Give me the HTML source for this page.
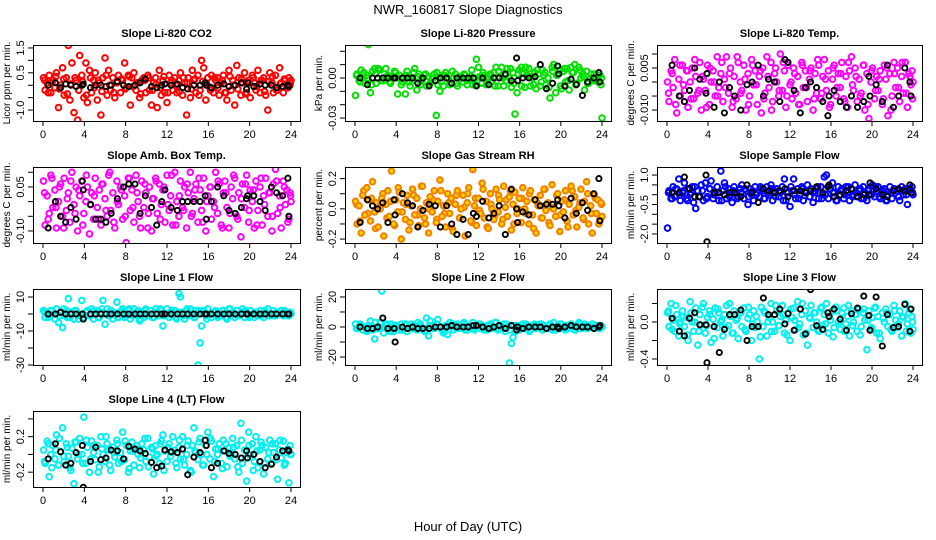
<!DOCTYPE html>
<html><head><meta charset="utf-8"><title>NWR_160817 Slope Diagnostics</title>
<style>
html,body{margin:0;padding:0;background:#fff;}
svg{display:block;font-family:"Liberation Sans",Arial,sans-serif;}
</style></head>
<body>
<svg id="chart" width="936" height="540" viewBox="0 0 936 540" xmlns="http://www.w3.org/2000/svg">
<rect x="0" y="0" width="936" height="540" fill="#fff"/>
<text x="468" y="14" font-size="13" text-anchor="middle">NWR_160817  Slope Diagnostics</text>
<text x="468" y="531" font-size="13" text-anchor="middle">Hour of Day (UTC)</text>
</svg>
<script>
const hoursAll = [0.05,0.2,0.4,0.6,0.75,0.95,1.15,1.3,1.5,1.7,
1.9,2.05,2.25,2.45,2.6,2.8,3.0,3.2,3.35,3.55,
3.75,3.95,4.15,4.3,4.5,4.7,4.9,5.05,5.25,5.45,
5.6,5.8,6.0,6.2,6.35,6.55,6.75,6.95,7.15,7.3,
7.5,7.7,7.9,8.05,8.25,8.45,8.6,8.8,9.0,9.2,
9.35,9.55,9.75,9.95,10.15,10.3,10.5,10.7,10.9,11.05,
11.25,11.45,11.6,11.8,12.0,12.2,12.35,12.55,12.75,12.95,
13.15,13.3,13.5,13.7,13.9,14.05,14.25,14.45,14.6,14.8,
15.0,15.2,15.35,15.55,15.75,15.95,16.15,16.3,16.5,16.7,
16.9,17.05,17.25,17.45,17.6,17.8,18.0,18.2,18.35,18.55,
18.75,18.95,19.15,19.3,19.5,19.7,19.9,20.05,20.25,20.45,
20.6,20.8,21.0,21.2,21.35,21.55,21.75,21.95,22.15,22.3,
22.5,22.7,22.9,23.05,23.25,23.45,23.6,23.8,23.9,24.0];
const hoursB = [0.15,0.5,0.85,1.25,1.6,2.0,2.35,2.7,3.1,3.45,3.85,4.2,4.6,4.95,5.35,5.7,6.1,6.45,6.85,7.2,7.6,7.95,8.35,8.7,9.1,9.45,9.85,10.2,10.6,10.95,11.35,11.7,12.1,12.45,12.85,13.2,13.6,13.95,14.35,14.7,15.1,15.45,15.85,16.2,16.6,16.95,17.35,17.7,18.1,18.45,18.85,19.2,19.6,19.95,20.35,20.7,21.1,21.45,21.85,22.2,22.6,22.95,23.35,23.7,23.95];
const hoursRef = [0.5,1.2,1.7,2.2,2.7,3.2,3.8,3.9,4.6,5.1,5.6,6.1,6.6,7.2,7.8,8.3,8.9,9.4,9.9,10.5,11.0,11.5,11.8,12.4,13.0,13.5,14.0,14.6,15.2,15.7,15.8,16.3,16.9,17.5,18.0,18.6,19.2,19.7,19.8,20.4,21.0,21.5,22.1,22.6,23.2,23.7,23.8];
const xTicks = [0,4,8,12,16,20,24];

const co2Vals = [0.3,-0.2,0.1,0.4,-0.3,0.2,-0.1,0.5,-0.9,0.0,
0.7,-0.4,0.3,1.6,-0.6,0.9,-1.1,0.2,-1.4,1.2,
0.4,-0.5,0.9,-0.7,0.6,-0.3,0.2,0.5,-0.6,0.1,
-1.2,0.3,1.1,-0.4,0.6,-0.2,0.3,-0.5,0.1,0.4,
-0.3,0.2,0.9,-0.1,0.4,-0.8,0.3,0.5,-0.2,0.1,
-0.5,0.2,0.3,-0.3,0.4,-0.2,-0.8,0.1,0.3,-0.9,
0.6,-0.4,0.2,-0.3,-0.7,0.4,0.1,-0.2,0.3,-0.3,
0.2,0.5,-0.4,0.1,-1.2,0.3,-0.5,0.6,0.2,-0.3,
0.4,-0.2,1.0,0.7,-0.6,0.3,-0.1,0.4,-0.3,0.2,
0.3,-0.4,0.1,0.4,-0.3,-0.6,0.6,-0.2,0.2,-0.8,
0.8,0.3,-0.4,0.1,0.5,-0.3,0.2,-0.5,0.4,0.1,
-0.2,0.6,-0.3,0.2,0.3,-0.4,-1.0,0.5,0.1,-0.3,
0.4,-0.2,0.7,0.1,-0.3,0.2,-0.1,0.3,0.0,0.2];
const co2ValsB = [0.2,-0.3,0.1,0.35,-0.15,0.25,-0.35,0.05,0.3,-0.2,0.15,-0.4,0.3,-0.1,0.2,-0.25,0.4,0.0,-0.3,0.15,0.25,-0.15,0.35,-0.05,0.1,-0.35,0.2,0.3,-0.2,0.05,-0.1,0.35,-0.3,0.2,0.0,-0.25,0.3,0.1,-0.15,0.25,-0.4,0.15,0.05,-0.2,0.3,-0.1,0.2,-0.3,0.35,0.0,-0.15,0.25,-0.35,0.1,0.3,-0.05,0.2,-0.25,0.15,0.35,-0.2,0.05,0.25,-0.1,0.1];
const co2Ref = [0.0,0.1,-0.1,0.05,0.0,-0.05,0.0,0.05,-0.1,0.0,0.0,-0.05,0.0,0.15,0.0,-0.05,0.0,0.1,0.25,-0.05,-0.1,0.0,0.05,0.0,0.05,-0.1,-0.15,0.0,0.0,0.1,0.0,-0.1,0.0,0.05,-0.05,0.0,0.1,-0.15,0.1,-0.05,0.05,0.0,0.0,-0.1,-0.05,0.0,-0.05];

const pressVals = [-0.013,0.003,-0.002,0.006,0.0,-0.004,0.002,0.025,-0.011,0.005,
0.007,-0.004,0.007,0.006,-0.002,0.0,0.007,0.002,-0.003,0.001,
0.0,0.004,-0.012,0.002,-0.005,0.0,-0.012,0.005,-0.003,0.0,
-0.002,0.007,-0.009,0.003,-0.005,0.0,0.002,-0.006,0.001,-0.004,
0.0,0.003,-0.028,-0.005,-0.01,0.002,-0.006,0.004,0.0,-0.005,
-0.004,0.0,0.003,-0.006,0.001,0.0,-0.003,0.002,-0.005,0.0,
0.001,-0.005,0.0,0.014,0.008,0.0,-0.004,0.002,-0.005,0.0,
0.003,-0.002,0.004,0.008,-0.006,0.001,0.008,-0.006,0.002,0.007,
0.0,-0.007,0.004,-0.027,-0.011,0.006,0.008,0.003,-0.007,0.002,
0.007,-0.006,0.0,0.004,-0.008,0.003,-0.006,0.006,0.002,-0.005,
0.0,-0.015,0.008,0.01,-0.011,0.003,0.006,-0.008,0.005,-0.003,
0.007,-0.009,0.008,0.004,0.01,-0.004,0.008,0.0,0.003,-0.009,
0.005,-0.004,0.0,-0.002,0.003,0.0,-0.003,0.002,-0.005,-0.03];
const pressValsB = [0.002,-0.003,0.004,0.0,-0.005,0.003,0.006,-0.002,0.001,-0.004,0.005,0.0,-0.003,0.002,-0.006,0.004,0.001,-0.002,0.003,-0.005,0.0,0.004,-0.003,0.002,-0.001,0.005,-0.004,0.0,0.003,-0.002,0.006,-0.005,0.001,0.004,-0.003,0.002,-0.006,0.005,0.0,-0.002,0.007,-0.004,0.003,-0.006,0.008,0.001,-0.005,0.006,-0.003,0.004,-0.007,0.005,0.002,-0.006,0.007,-0.002,0.004,-0.005,0.006,0.001,-0.004,0.003,-0.002,0.002,0.0];
const pressRef = [0.0,-0.005,0.0,0.0,0.0,0.0,0.0,0.0,0.0,0.0,0.0,-0.004,0.0,-0.006,-0.002,0.0,0.0,-0.004,0.0,0.0,0.0,0.0,-0.006,0.0,-0.005,0.0,0.0,0.003,-0.002,0.015,-0.002,0.0,0.0,0.001,0.01,-0.008,-0.004,0.009,0.003,-0.006,-0.001,-0.005,-0.013,-0.003,0.0,0.004,-0.003];

const liTempVals = [0.0,-0.007,0.004,-0.002,0.008,-0.011,0.001,-0.005,0.006,-0.003,
0.004,-0.009,0.0,0.005,-0.006,0.002,-0.004,0.007,-0.010,0.001,
-0.003,0.006,-0.008,0.0,0.004,-0.005,0.009,-0.002,0.003,-0.007,
0.001,0.009,-0.004,0.005,-0.009,0.002,-0.006,0.007,0.0,-0.003,
0.006,-0.010,0.003,-0.005,0.008,-0.001,0.004,-0.008,0.002,-0.011,
0.005,-0.004,0.009,-0.002,0.007,-0.007,0.003,0.0,-0.005,0.010,
-0.003,0.004,-0.009,0.006,-0.001,-0.006,0.005,-0.004,0.002,-0.008,
0.007,-0.002,0.004,-0.007,0.001,0.005,-0.010,0.003,-0.004,0.006,
-0.006,0.002,0.008,-0.003,0.004,-0.008,0.001,0.006,-0.005,0.003,
-0.002,0.007,-0.006,0.002,-0.009,0.004,0.009,-0.003,0.005,-0.007,
0.001,-0.004,0.006,-0.010,0.003,-0.013,0.0,0.005,-0.006,0.002,
-0.003,0.004,-0.008,0.006,0.001,-0.012,0.003,-0.005,0.007,-0.002,
0.005,-0.007,0.002,-0.004,0.007,-0.009,0.003,-0.001,0.004,0.0];
const liTempValsB = [-0.004,0.003,-0.008,0.006,-0.001,0.004,-0.006,0.008,-0.003,0.002,-0.009,0.005,0.0,-0.005,0.007,-0.002,0.003,-0.007,0.009,-0.004,0.001,-0.008,0.006,-0.001,0.004,-0.006,0.002,-0.010,0.005,-0.003,0.007,-0.005,0.0,0.003,-0.008,0.006,-0.002,0.004,-0.006,0.008,-0.004,0.001,-0.009,0.005,-0.002,0.003,-0.007,0.007,-0.001,0.002,-0.005,0.006,-0.008,0.004,-0.003,0.001,-0.006,0.005,-0.010,0.003,-0.002,0.007,-0.004,0.002,-0.006];
const liTempRef = [0.006,-0.005,-0.007,-0.003,0.005,0.001,-0.004,0.003,-0.009,0.0,-0.011,-0.002,-0.005,-0.010,-0.001,0.0,0.006,-0.005,0.001,0.0,-0.007,0.008,0.007,-0.003,-0.011,-0.002,0.0,-0.002,-0.007,-0.012,-0.005,-0.003,-0.007,-0.009,-0.005,-0.009,-0.007,0.002,-0.005,-0.001,-0.007,0.006,-0.009,-0.005,0.005,0.0,-0.005];

const ambVals = [0.07,-0.08,0.02,-0.04,0.09,-0.02,0.04,-0.09,0.0,0.06,
-0.05,0.08,-0.03,0.03,-0.07,0.1,-0.01,0.05,-0.10,0.02,
0.07,-0.04,0.0,0.05,-0.11,0.03,-0.06,0.08,-0.02,0.04,
-0.08,0.06,0.01,-0.05,0.09,-0.03,0.03,-0.09,0.07,-0.01,
0.05,-0.06,0.02,-0.14,0.08,-0.03,0.04,-0.07,0.09,0.0,
-0.05,0.07,-0.02,0.03,-0.09,0.05,-0.10,0.01,0.08,-0.04,
0.06,-0.01,0.04,-0.07,0.09,-0.03,0.02,-0.08,0.1,0.0,
-0.05,0.07,-0.02,0.05,-0.09,0.03,0.1,-0.04,0.01,0.06,
-0.07,0.04,-0.03,0.08,-0.1,0.02,0.05,-0.06,0.0,0.1,
-0.04,0.06,-0.08,0.03,0.07,-0.02,-0.09,0.05,0.01,0.08,
-0.05,0.03,-0.12,0.06,-0.02,0.09,-0.07,0.04,0.0,-0.09,
0.07,-0.03,0.05,-0.08,0.02,0.08,-0.05,0.03,-0.10,0.06,
0.11,-0.04,0.02,-0.09,0.07,-0.01,0.04,-0.06,0.03,0.0];
const ambValsB = [0.03,-0.06,0.08,-0.02,0.05,-0.09,0.01,0.07,-0.04,0.04,-0.08,0.09,-0.01,0.02,-0.06,0.06,-0.03,0.1,-0.07,0.0,0.04,-0.05,0.08,-0.02,0.03,-0.09,0.06,-0.04,0.01,0.07,-0.06,0.05,-0.01,0.09,-0.08,0.02,-0.03,0.06,-0.05,0.04,0.08,-0.07,0.0,0.05,-0.02,0.07,-0.09,0.03,-0.04,0.09,-0.06,0.01,0.06,-0.03,0.04,-0.08,0.08,-0.01,0.03,-0.05,0.07,-0.02,0.05,-0.07,0.02];
const ambRef = [-0.09,0.0,-0.05,-0.07,-0.02,-0.06,0.07,0.04,-0.01,-0.06,-0.06,-0.07,-0.04,0.01,0.05,0.06,0.06,-0.04,0.02,-0.02,-0.08,0.0,0.04,-0.02,-0.03,0.0,0.0,0.0,0.0,0.02,-0.06,0.0,0.05,0.02,-0.03,-0.04,-0.02,0.01,0.02,0.02,0.0,-0.03,0.05,0.03,0.02,0.08,-0.05];

const rhVals = [0.05,-0.1,0.02,-0.16,0.09,-0.04,0.14,0.06,-0.08,0.18,
-0.02,0.04,-0.12,0.0,0.07,-0.18,0.03,0.12,-0.05,0.25,
-0.1,0.06,-0.02,0.11,-0.2,0.04,-0.07,0.09,-0.14,0.02,
0.13,-0.04,0.07,-0.11,0.0,0.15,-0.06,0.04,-0.16,0.08,
-0.02,0.12,-0.09,0.05,0.19,-0.05,0.02,-0.12,0.1,-0.03,
0.07,-0.15,0.03,0.12,-0.06,0.0,0.09,-0.18,0.04,0.14,
-0.08,0.26,0.02,-0.11,0.07,-0.03,0.17,-0.06,0.05,-0.13,
0.1,0.0,-0.07,0.13,-0.02,0.06,-0.1,0.15,0.01,-0.05,
0.08,-0.14,0.03,0.11,-0.03,0.07,-0.09,0.14,0.0,0.05,
-0.1,0.12,-0.04,0.06,-0.16,0.02,0.09,-0.06,0.13,-0.01,
0.04,-0.11,0.16,0.0,-0.05,0.1,-0.15,0.05,-0.02,0.12,
-0.08,0.03,0.15,-0.04,0.08,-0.12,0.01,0.13,-0.06,0.05,
0.18,-0.1,0.02,-0.16,0.09,-0.03,0.06,-0.07,0.04,-0.05];
const rhValsB = [0.03,-0.08,0.12,-0.03,0.07,-0.13,0.01,0.1,-0.06,0.05,-0.11,0.14,-0.02,0.03,-0.09,0.09,-0.04,0.15,-0.1,0.0,0.06,-0.07,0.12,-0.03,0.04,-0.13,0.09,-0.06,0.01,0.1,-0.09,0.07,-0.01,0.13,-0.12,0.03,-0.04,0.09,-0.07,0.06,0.12,-0.1,0.0,0.07,-0.03,0.1,-0.13,0.04,-0.06,0.13,-0.09,0.01,0.09,-0.04,0.06,-0.12,0.12,-0.01,0.04,-0.07,0.1,-0.03,0.07,-0.1,0.03];
const rhRef = [-0.09,0.06,0.02,0.0,0.04,-0.09,0.06,-0.04,0.1,0.04,0.02,-0.12,-0.01,0.03,0.02,-0.12,0.02,-0.1,-0.17,-0.07,-0.17,-0.03,-0.05,0.05,-0.06,-0.03,0.02,-0.17,0.13,0.0,-0.09,-0.02,-0.04,0.06,0.02,0.03,0.03,0.06,0.02,-0.06,0.07,-0.03,0.04,-0.01,0.1,0.2,-0.08];

const sampleFlowVals = [-1.7,0.2,-0.2,0.4,-0.1,0.3,0.8,-0.3,0.1,0.6,
-0.2,0.3,0.0,0.4,-0.4,-0.7,0.2,-0.1,0.5,-0.3,
0.6,-0.1,0.3,0.7,-0.2,0.1,0.4,-0.3,1.2,0.2,
0.6,-0.2,0.3,0.0,-0.4,0.4,0.1,-0.1,0.3,0.5,
-0.2,0.2,-0.5,0.3,0.0,-0.3,0.4,0.1,-0.1,0.3,
0.2,-0.2,0.4,0.0,0.5,-0.3,0.2,0.3,-0.1,0.1,
0.4,0.8,-0.3,0.1,-0.6,0.2,0.8,-0.2,0.3,0.0,
0.4,-0.3,0.2,0.5,-0.1,0.3,-0.4,0.1,0.3,-0.2,
0.4,0.0,0.9,1.0,-0.2,0.3,0.6,0.1,-0.3,0.4,
0.0,0.3,-0.2,0.4,0.1,-0.3,0.3,0.0,0.5,-0.1,
0.2,-0.2,0.4,0.1,-0.3,0.3,0.0,0.5,-0.1,0.2,
0.4,-0.2,0.1,0.3,-0.3,0.0,0.4,-0.2,0.3,0.1,
0.2,-0.3,0.4,0.0,0.3,-0.5,0.2,0.1,0.4,0.0];
const sampleFlowValsB = [0.1,-0.2,0.3,0.0,0.2,-0.3,0.1,0.4,-0.1,0.2,-0.2,0.3,0.0,0.1,-0.3,0.4,-0.1,0.2,-0.2,0.1,0.3,-0.1,0.2,0.0,0.4,-0.2,0.1,0.3,-0.1,0.2,-0.3,0.1,0.4,0.0,-0.2,0.3,0.1,-0.1,0.2,0.4,-0.2,0.0,0.3,0.1,-0.3,0.2,0.0,0.4,-0.1,0.1,0.3,-0.2,0.2,0.0,0.4,-0.1,0.2,-0.3,0.1,0.3,-0.1,0.2,0.0,0.3,0.1];
const sampleFlowRef = [0.1,0.1,0.9,0.3,-0.1,-0.1,1.0,-2.4,0.1,0.1,0.0,0.1,0.1,-0.1,0.5,0.1,-0.4,0.3,0.2,0.1,0.2,0.3,-0.1,0.2,0.2,0.1,0.2,0.4,0.1,0.4,0.5,-0.1,0.0,0.2,0.3,-0.1,0.0,0.0,0.6,0.3,0.0,-0.1,0.2,0.3,0.2,0.5,0.1];

const line1Vals = [2,-2,1,-1,2,0,-3,3,-5,1,
-8,-1,2,9,-2,1,-3,2,0,-1,
8,-2,1,2,-1,3,-3,0,2,-2,
1,8,-6,3,-1,2,-3,0,7,-2,
1,3,-2,-1,2,-3,0,3,-1,2,
-4,1,-2,3,0,-1,2,-2,3,1,
-1,2,-7,0,3,-2,1,-1,2,-3,
12,10,1,-3,2,-1,3,0,-2,2,
-30,-17,-7,2,-1,3,0,-2,1,2,
-2,1,-1,2,0,-3,3,-1,1,-2,
2,-1,0,3,-2,1,-1,2,0,-2,
1,-1,2,0,-2,1,3,-1,0,2,
-1,1,0,2,-1,1,0,-1,1,0];
const line1ValsB = [1,-2,2,0,-1,3,-2,1,2,-3,0,1,-1,2,-2,3,0,-1,1,-2,2,0,3,-1,1,-3,2,0,-2,1,3,-1,0,2,-2,1,-1,3,0,-2,2,1,-3,0,1,-1,2,-2,3,0,-1,1,2,-2,0,1,-1,2,0,-1,1,0,2,-1,1];
const line1Ref = [0,0,1,0,0,0,0,-3,0,0,0,0,0,0,0,0,0,0,0,0,0,0,0,0,0,0,0,0,0,0,0,0,0,0,0,0,0,0,0,0,0,0,0,0,0,0,0];

const line2Vals = [2,-1,0,1,-2,0,-3,1,4,-2,
-8,-1,0,3,24,-4,1,-2,0,2,
-3,1,0,-2,2,-1,1,-3,0,2,
-1,1,-2,0,2,-1,-3,6,-6,4,
1,-1,2,5,0,-2,-4,1,-5,3,
0,-2,1,2,-1,0,2,-2,1,0,
1,3,-2,0,2,-1,1,-2,0,1,
2,-1,0,3,-2,1,-1,2,-3,0,
-24,-11,-7,-3,1,-2,0,2,-1,1,
0,-2,1,2,-1,0,2,-2,1,0,
-1,2,0,3,-2,1,-1,2,0,-2,
1,-1,2,0,-2,1,3,-1,0,2,
-1,1,0,2,-1,1,0,-1,1,0];
const line2ValsB = [-1,2,0,-2,1,3,-1,0,2,-3,1,0,-2,2,-1,1,3,0,-2,1,-1,2,0,-3,1,2,-1,0,3,-2,1,-1,2,0,-2,1,3,-1,0,2,-2,1,0,-1,2,-3,1,0,2,-1,1,-2,0,2,-1,1,0,-2,2,1,-1,0,1,-1,0];
const line2Ref = [0,-1,-1,0,6,-1,-1,-10,0,-1,0,-1,-1,-1,0,0,0,1,0,0,0,1,1,0,-1,0,1,-1,1,-2,0,-1,0,0,0,-1,0,0,-1,0,1,0,0,0,-1,0,1];

const line3Vals = [0.1,-0.05,0.2,0.02,-0.1,0.08,-0.15,0.0,0.12,-0.05,
0.05,-0.2,0.22,0.0,-0.1,0.15,-0.25,0.08,-0.03,0.2,
-0.12,0.05,0.12,-0.22,0.03,0.15,-0.06,0.1,0.0,-0.15,
0.08,0.18,-0.04,0.06,-0.12,0.12,0.02,-0.18,0.1,-0.05,
0.15,-0.1,0.04,0.08,-0.2,0.12,-0.06,0.0,-0.4,0.16,
-0.05,0.1,-0.15,0.05,0.2,0.0,-0.1,0.12,-0.04,0.06,
0.18,-0.12,0.02,0.1,-0.2,0.05,0.15,-0.08,0.22,-0.02,
0.08,-0.14,0.12,-0.25,0.05,0.18,-0.06,0.1,0.0,-0.1,
0.15,-0.04,0.08,0.2,-0.12,0.02,0.12,-0.06,0.16,0.0,
-0.08,0.1,0.15,-0.02,0.06,-0.15,0.12,0.0,0.08,-0.1,
0.14,-0.05,0.1,0.02,-0.3,0.12,-0.08,0.05,0.15,-0.12,
0.06,-0.18,0.1,0.0,0.14,-0.05,0.08,-0.1,0.18,0.02,
-0.06,0.12,-0.15,0.05,0.2,-0.02,0.1,-0.12,0.06,-0.08];
const line3ValsB = [0.12,-0.08,0.18,-0.02,0.06,-0.14,0.1,0.0,-0.1,0.16,-0.04,0.08,-0.18,0.14,0.02,-0.06,0.2,-0.12,0.04,0.1,-0.08,0.16,-0.02,0.06,-0.16,0.12,0.0,-0.1,0.18,-0.04,0.08,-0.14,0.14,0.02,-0.06,0.2,-0.12,0.04,0.1,-0.08,0.16,-0.02,0.06,-0.16,0.12,0.0,-0.1,0.18,-0.04,0.08,-0.14,0.14,0.02,-0.06,0.16,-0.12,0.04,0.1,-0.08,0.12,-0.02,0.06,-0.1,0.14,0.0];
const line3Ref = [0.04,-0.1,-0.15,0.04,0.1,-0.03,-0.03,-0.44,-0.05,-0.33,-0.08,0.08,0.08,0.13,-0.2,-0.05,-0.05,0.26,0.08,0.08,0.14,-0.02,0.09,-0.09,0.14,-0.13,0.35,-0.04,-0.08,0.1,0.06,0.14,0.03,-0.09,0.09,0.15,0.28,0.07,-0.09,0.27,-0.26,0.08,-0.06,-0.05,0.19,-0.1,0.14];

const line4Vals = [0.05,-0.1,0.15,-0.25,0.0,0.1,-0.05,0.22,-0.12,0.03,
0.3,-0.08,0.12,-0.02,-0.15,0.07,-0.33,0.14,-0.05,0.18,
0.0,0.42,-0.1,0.08,-0.2,0.15,0.02,-0.06,0.1,-0.14,
0.2,0.0,-0.08,0.12,0.05,-0.18,0.08,-0.03,0.16,-0.1,
0.02,0.25,-0.06,0.1,-0.2,0.04,0.14,-0.12,0.06,0.0,
-0.15,0.12,0.05,-0.08,0.18,-0.03,0.08,-0.22,0.1,0.0,
-0.1,0.15,0.22,0.04,-0.08,0.12,-0.02,0.2,0.05,-0.15,
0.08,-0.05,0.2,-0.12,0.0,0.15,-0.18,0.1,0.3,0.02,
-0.06,0.18,0.0,-0.12,0.1,0.25,-0.05,0.15,-0.25,0.06,
0.0,0.12,-0.1,0.16,0.04,-0.14,0.08,0.0,0.18,-0.05,
0.1,-0.2,0.35,-0.1,0.05,-0.3,0.25,0.0,0.12,-0.08,
0.2,-0.15,0.05,0.1,-0.22,0.08,-0.05,0.16,-0.1,0.02,
0.12,-0.28,0.05,-0.04,0.15,-0.1,0.02,-0.32,0.1,0.0];
const line4ValsB = [-0.08,0.12,-0.15,0.05,0.18,-0.02,0.08,-0.18,0.14,0.0,-0.1,0.16,-0.05,0.1,-0.2,0.06,0.2,-0.12,0.02,0.12,-0.08,0.15,-0.16,0.04,0.1,-0.04,0.18,-0.14,0.06,-0.02,0.12,-0.18,0.08,0.02,-0.1,0.16,-0.06,0.1,-0.2,0.04,0.14,-0.12,0.0,0.18,-0.08,0.06,-0.16,0.12,-0.02,0.08,-0.14,0.16,-0.04,0.1,-0.18,0.04,0.14,-0.1,0.02,0.12,-0.06,0.16,-0.12,0.06,0.0];
const line4Ref = [-0.05,0.12,0.03,-0.12,-0.1,0.02,0.1,-0.37,-0.08,0.08,-0.06,-0.04,0.05,0.04,-0.05,0.09,0.06,0.04,0.01,-0.09,-0.15,-0.13,0.05,0.03,0.02,0.06,-0.23,-0.03,0.02,0.16,0.1,-0.15,-0.1,0.04,0.01,0.0,-0.04,0.04,-0.04,0.0,-0.08,-0.15,-0.11,-0.03,0.04,0.05,0.04];

const co2Ticks = [-1.0,-0.5,0,0.5,1.0,1.5];
const co2TickLabels = ["-1.0","","","0.5","","1.5"];
const pressTicks = [-0.03,-0.02,-0.01,0,0.01,0.02];
const pressTickLabels = ["-0.03","","","0.00","",""];
const liTempTicks = [-0.010,-0.005,0,0.005,0.010];
const liTempTickLabels = ["-0.010","","","0.005",""];
const ambTicks = [-0.10,-0.05,0,0.05,0.10];
const ambTickLabels = ["-0.10","","","0.05",""];
const rhTicks = [-0.2,-0.1,0,0.1,0.2];
const rhTickLabels = ["-0.2","","0.0","","0.2"];
const sampleFlowTicks = [-2.0,-1.5,-1.0,-0.5,0,0.5,1.0];
const sampleFlowTickLabels = ["-2.0","","","-0.5","","","1.0"];
const line1Ticks = [-30,-20,-10,0,10];
const line1TickLabels = ["-30","","-10","","10"];
const line2Ticks = [-20,-10,0,10,20];
const line2TickLabels = ["-20","","0","","20"];
const line3Ticks = [-0.4,-0.2,0,0.2];
const line3TickLabels = ["-0.4","","0.0",""];
const line4Ticks = [-0.2,0,0.2,0.4];
const line4TickLabels = ["-0.2","","0.2",""];

const panels = [
 {id:'co2',title:'Slope Li-820 CO2',ylab:'Licor ppm per min.',col:0,row:0,dom:[-1.44,1.62],vals:co2Vals,valsB:co2ValsB,ref:co2Ref,ticks:co2Ticks,labels:co2TickLabels,color:'#ff0000'},
 {id:'pressure',title:'Slope Li-820 Pressure',ylab:'kPa per min.',col:1,row:0,dom:[-0.0322,0.0247],vals:pressVals,valsB:pressValsB,ref:pressRef,ticks:pressTicks,labels:pressTickLabels,color:'#00e000'},
 {id:'li820-temp',title:'Slope Li-820 Temp.',ylab:'degrees C per min.',col:2,row:0,dom:[-0.0139,0.0132],vals:liTempVals,valsB:liTempValsB,ref:liTempRef,ticks:liTempTicks,labels:liTempTickLabels,color:'#ff00ff'},
 {id:'amb-box-temp',title:'Slope Amb. Box Temp.',ylab:'degrees C per min.',col:0,row:1,dom:[-0.141,0.118],vals:ambVals,valsB:ambValsB,ref:ambRef,ticks:ambTicks,labels:ambTickLabels,color:'#ff00ff'},
 {id:'gas-stream-rh',title:'Slope Gas Stream RH',ylab:'percent per min.',col:1,row:1,dom:[-0.226,0.277],vals:rhVals,valsB:rhValsB,ref:rhRef,ticks:rhTicks,labels:rhTickLabels,color:'#f08000'},
 {id:'sample-flow',title:'Slope Sample Flow',ylab:'ml/min per min.',col:2,row:1,dom:[-2.46,1.41],vals:sampleFlowVals,valsB:sampleFlowValsB,ref:sampleFlowRef,ticks:sampleFlowTicks,labels:sampleFlowTickLabels,color:'#0000ff'},
 {id:'line1-flow',title:'Slope Line 1 Flow',ylab:'ml/min per min.',col:0,row:2,dom:[-30,14.7],vals:line1Vals,valsB:line1ValsB,ref:line1Ref,ticks:line1Ticks,labels:line1TickLabels,color:'#00f0f0'},
 {id:'line2-flow',title:'Slope Line 2 Flow',ylab:'ml/min per min.',col:1,row:2,dom:[-25.3,25.3],vals:line2Vals,valsB:line2ValsB,ref:line2Ref,ticks:line2Ticks,labels:line2TickLabels,color:'#00f0f0'},
 {id:'line3-flow',title:'Slope Line 3 Flow',ylab:'ml/min per min.',col:2,row:2,dom:[-0.465,0.357],vals:line3Vals,valsB:line3ValsB,ref:line3Ref,ticks:line3Ticks,labels:line3TickLabels,color:'#00f0f0'},
 {id:'line4-flow',title:'Slope Line 4 (LT) Flow',ylab:'ml/min per min.',col:0,row:3,dom:[-0.367,0.489],vals:line4Vals,valsB:line4ValsB,ref:line4Ref,ticks:line4Ticks,labels:line4TickLabels,color:'#00f0f0'}
];

const NS = 'http://www.w3.org/2000/svg';
const svg = document.getElementById('chart');
function mk(tag, attrs, parent){
  const e = document.createElementNS(NS, tag);
  for (const k in attrs) e.setAttribute(k, attrs[k]);
  (parent||svg).appendChild(e);
  return e;
}

panels.forEach(p => {
  const left = 33 + 312*p.col, right = 300 + 311*p.col;
  const top = 45 + 122*p.row, bottom = 121 + 122*p.row;
  const x0 = 43 + 312*p.col, x24 = 291 + 311*p.col;
  const xScale = h => x0 + h*(x24-x0)/24;
  const yScale = v => bottom - (v - p.dom[0])*(bottom-top)/(p.dom[1]-p.dom[0]);

  const g = mk('g', {});
  
  

  const cp = mk('clipPath', {id:'clip-'+p.id}, g);
  mk('rect', {x:left, y:top, width:right-left, height:bottom-top}, cp);

  const title = mk('text', {x:(left+right)/2, y:top-8, 'font-size':11, 'font-weight':'bold', 'text-anchor':'middle'}, g);
  title.textContent = p.title;
  
  

  const yl = mk('text', {x:0, y:0, 'font-size':10, 'text-anchor':'middle', transform:'translate('+(left-23)+','+((top+bottom)/2)+') rotate(-90)'}, g);
  yl.textContent = p.ylab;
  
  

  const pts = mk('g', {'clip-path':'url(#clip-'+p.id+')'}, g);
  
  
  const fillC = (p.id==='gas-stream-rh') ? '#ffd000' : 'none';
  const nb = Math.min(hoursB.length, p.valsB.length);
  for (let i=0;i<nb;i++){
    const c = mk('circle', {cx:xScale(hoursB[i]).toFixed(1), cy:yScale(p.valsB[i]).toFixed(1), r:2.8, fill:fillC, stroke:p.color, 'stroke-width':2}, pts);
    
    
  }
  const n = Math.min(hoursAll.length, p.vals.length);
  for (let i=0;i<n;i++){
    const c = mk('circle', {cx:xScale(hoursAll[i]).toFixed(1), cy:yScale(p.vals[i]).toFixed(1), r:2.8, fill:fillC, stroke:p.color, 'stroke-width':2}, pts);
    
    
  }
  const m = Math.min(hoursRef.length, p.ref.length);
  for (let i=0;i<m;i++){
    const c = mk('circle', {cx:xScale(hoursRef[i]).toFixed(1), cy:yScale(p.ref[i]).toFixed(1), r:2.6, fill:'none', stroke:'#000', 'stroke-width':1.9}, pts);
    
    
  }

  const box = mk('rect', {x:left+0.5, y:top+0.5, width:right-left, height:bottom-top, fill:'none', stroke:'#000', 'stroke-width':1}, g);
  
  

  xTicks.forEach(t => {
    const x = xScale(t);
    mk('line', {x1:x, x2:x, y1:bottom+0.5, y2:bottom+5, stroke:'#000', 'stroke-width':1}, g);
    const tl = mk('text', {x:x, y:bottom+17, 'font-size':11, 'text-anchor':'middle'}, g);
    tl.textContent = t;
    
    
  });
  p.ticks.forEach((t, i) => {
    const y = yScale(t);
    mk('line', {x1:left-5, x2:left+0.5, y1:y, y2:y, stroke:'#000', 'stroke-width':1}, g);
    if (p.labels[i]) {
      const tl = mk('text', {x:0, y:0, 'font-size':11, 'text-anchor':'middle', transform:'translate('+(left-9)+','+y+') rotate(-90)'}, g);
      tl.textContent = p.labels[i];
      
      
    }
  });
});
</script>
</body></html>
